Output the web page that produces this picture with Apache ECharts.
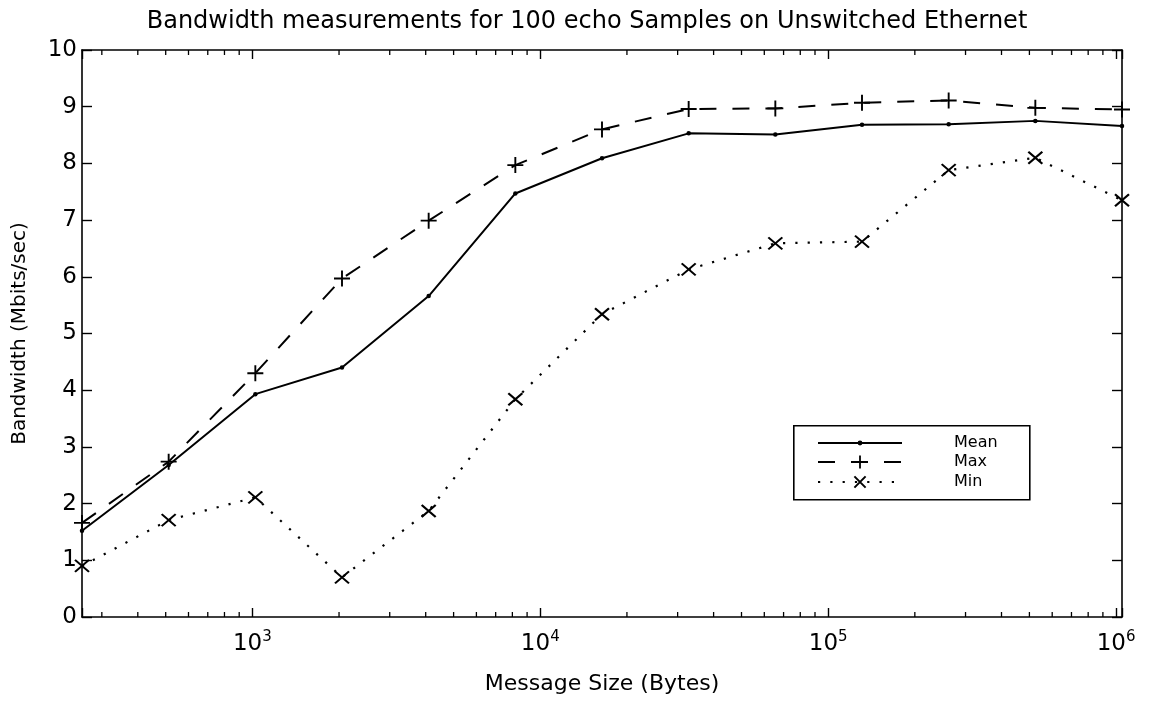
<!DOCTYPE html>
<html>
<head>
<meta charset="utf-8">
<script src="https://cdn.jsdelivr.net/npm/echarts@6/dist/echarts.min.js"></script>
<style>
html,body{margin:0;padding:0;background:#fff;}
#chart{width:1150px;height:701px;}
</style>
</head>
<body>
<div id="chart"></div>
<script>
// ---- data ----
const titleText = 'Bandwidth measurements for 100 echo Samples on Unswitched Ethernet';
const xName = 'Message Size (Bytes)';
const yName = 'Bandwidth (Mbits/sec)';
const sizes = [256, 512, 1024, 2048, 4096, 8192, 16384, 32768, 65536, 131072, 262144, 524288, 1048576];
const meanBw = [1.52, 2.68, 3.93, 4.40, 5.66, 7.47, 8.09, 8.53, 8.51, 8.68, 8.69, 8.75, 8.66];
const maxBw  = [1.66, 2.74, 4.30, 5.97, 6.99, 7.97, 8.60, 8.96, 8.97, 9.07, 9.11, 8.98, 8.95];
const minBw  = [0.90, 1.71, 2.11, 0.70, 1.87, 3.84, 5.34, 6.13, 6.59, 6.62, 7.88, 8.10, 7.35];
const seriesNames = ['Mean', 'Max', 'Min'];
const xMin = 256, xMax = 1048576;
const xMajorTicks = [1000, 10000, 100000, 1000000];
const xMajorExp = ['3', '4', '5', '6'];
const xMinorTicks = [300, 400, 500, 600, 700, 800, 900,
  2000, 3000, 4000, 5000, 6000, 7000, 8000, 9000,
  20000, 30000, 40000, 50000, 60000, 70000, 80000, 90000,
  200000, 300000, 400000, 500000, 600000, 700000, 800000, 900000];
const yMin = 0, yMax = 10, yStep = 1;

// ---- chart ----
const FONT = 'DejaVu Sans';
const chart = echarts.init(document.getElementById('chart'), null, {renderer: 'canvas'});
const pair = arr => sizes.map((s, i) => [s, arr[i]]);
const plusPath = 'path://M0,-1L0,1M-1,0L1,0';
const crossPath = 'path://M-1,-1L1,1M-1,1L1,-1';

function xLabel(v) {
  for (let i = 0; i < xMajorTicks.length; i++) {
    if (Math.abs(v - xMajorTicks[i]) / xMajorTicks[i] < 1e-6) return '{b|10}{s|' + xMajorExp[i] + '}';
  }
  return '';
}

const axisLine = {show: true, onZero: false, lineStyle: {color: '#000', width: 1.6}};

function legendFor(name, top, itemHeight, bw) {
  return {
    show: true, data: [name], orient: 'vertical',
    left: 817, top: top, padding: 0,
    itemWidth: 84, itemHeight: itemHeight, selectedMode: false,
    itemStyle: {color: '#000', borderColor: '#000', borderWidth: bw},
    textStyle: {fontFamily: FONT, fontSize: 16, color: '#000', lineHeight: 18, padding: [0, 0, 0, 47]}
  };
}

const option = {
  animation: false,
  backgroundColor: '#fff',
  color: ['#000', '#000', '#000'],
  title: {
    text: titleText, left: 587, top: 10, padding: 0, textAlign: 'center',
    textStyle: {fontFamily: FONT, fontSize: 24, fontWeight: 'normal', color: '#000'}
  },
  legend: [
    legendFor('Mean', 434, 6, 0),
    legendFor('Max', 453, 16, 1.8),
    legendFor('Min', 473, 14, 2)
  ],
  graphic: [{
    type: 'rect', z: 3, left: 793, top: 425,
    shape: {width: 236, height: 74},
    style: {fill: '#fff', stroke: '#000', lineWidth: 1.6}
  }],
  grid: {left: 82, right: 28, top: 50, bottom: 84, containLabel: false},
  xAxis: [{
    type: 'log', logBase: 10, min: xMin, max: xMax, position: 'bottom',
    name: xName, nameLocation: 'middle', nameGap: 56,
    nameTextStyle: {fontFamily: FONT, fontSize: 22, color: '#000'},
    axisLine: axisLine,
    axisTick: {show: true, inside: true, length: 9, lineStyle: {color: '#000', width: 1.4}},
    splitLine: {show: false}, minorTick: {show: false},
    axisLabel: {
      show: true, margin: 16, formatter: xLabel, color: '#000',
      rich: {
        b: {fontFamily: FONT, fontSize: 23, lineHeight: 23, color: '#000', verticalAlign: 'bottom'},
        s: {fontFamily: FONT, fontSize: 15, lineHeight: 15, color: '#000', padding: [0, 0, 15, 0]}
      }
    }
  }, {
    type: 'log', logBase: 10, min: xMin, max: xMax, position: 'top',
    axisLine: axisLine,
    axisTick: {show: true, inside: true, length: 9, lineStyle: {color: '#000', width: 1.4}},
    axisLabel: {show: false}, splitLine: {show: false}
  }],
  yAxis: [{
    type: 'value', min: yMin, max: yMax, interval: yStep, position: 'left',
    name: yName, nameLocation: 'middle', nameGap: 52,
    nameTextStyle: {fontFamily: FONT, fontSize: 20, color: '#000'},
    axisLine: axisLine,
    axisTick: {show: true, inside: true, length: 10, lineStyle: {color: '#000', width: 1.4}},
    axisLabel: {fontFamily: FONT, fontSize: 23, color: '#000', margin: 5},
    splitLine: {show: false}
  }, {
    type: 'value', min: yMin, max: yMax, interval: yStep, position: 'right',
    axisLine: axisLine,
    axisTick: {show: true, inside: true, length: 10, lineStyle: {color: '#000', width: 1.4}},
    axisLabel: {show: false}, splitLine: {show: false}
  }],
  series: [{
    type: 'custom', xAxisIndex: 0, yAxisIndex: 0, silent: true,
    data: xMinorTicks.map(v => [v, yMin]),
    renderItem: function (params, api) {
      const v = api.value(0);
      const b = api.coord([v, yMin]);
      const t = api.coord([v, yMax]);
      const st = {stroke: '#000', lineWidth: 1.3};
      return {type: 'group', children: [
        {type: 'line', shape: {x1: b[0], y1: b[1], x2: b[0], y2: b[1] - 5}, style: st},
        {type: 'line', shape: {x1: t[0], y1: t[1], x2: t[0], y2: t[1] + 5}, style: st}
      ]};
    }
  }, {
    name: seriesNames[0], type: 'line', data: pair(meanBw),
    symbol: 'circle', symbolSize: 4.5, showAllSymbol: true,
    lineStyle: {color: '#000', width: 2, type: 'solid'},
    itemStyle: {color: '#000', borderColor: '#000', borderWidth: 0}
  }, {
    name: seriesNames[1], type: 'line', data: pair(maxBw),
    symbol: plusPath, symbolSize: 16, showAllSymbol: true,
    lineStyle: {color: '#000', width: 2, type: [17, 16]},
    itemStyle: {color: '#000', borderColor: '#000', borderWidth: 1.9}
  }, {
    name: seriesNames[2], type: 'line', data: pair(minBw),
    symbol: crossPath, symbolSize: [14, 12], showAllSymbol: true,
    lineStyle: {color: '#000', width: 2.2, type: [2.2, 10.1]},
    itemStyle: {color: '#000', borderColor: '#000', borderWidth: 2}
  }]
};
chart.setOption(option);
</script>
</body>
</html>
